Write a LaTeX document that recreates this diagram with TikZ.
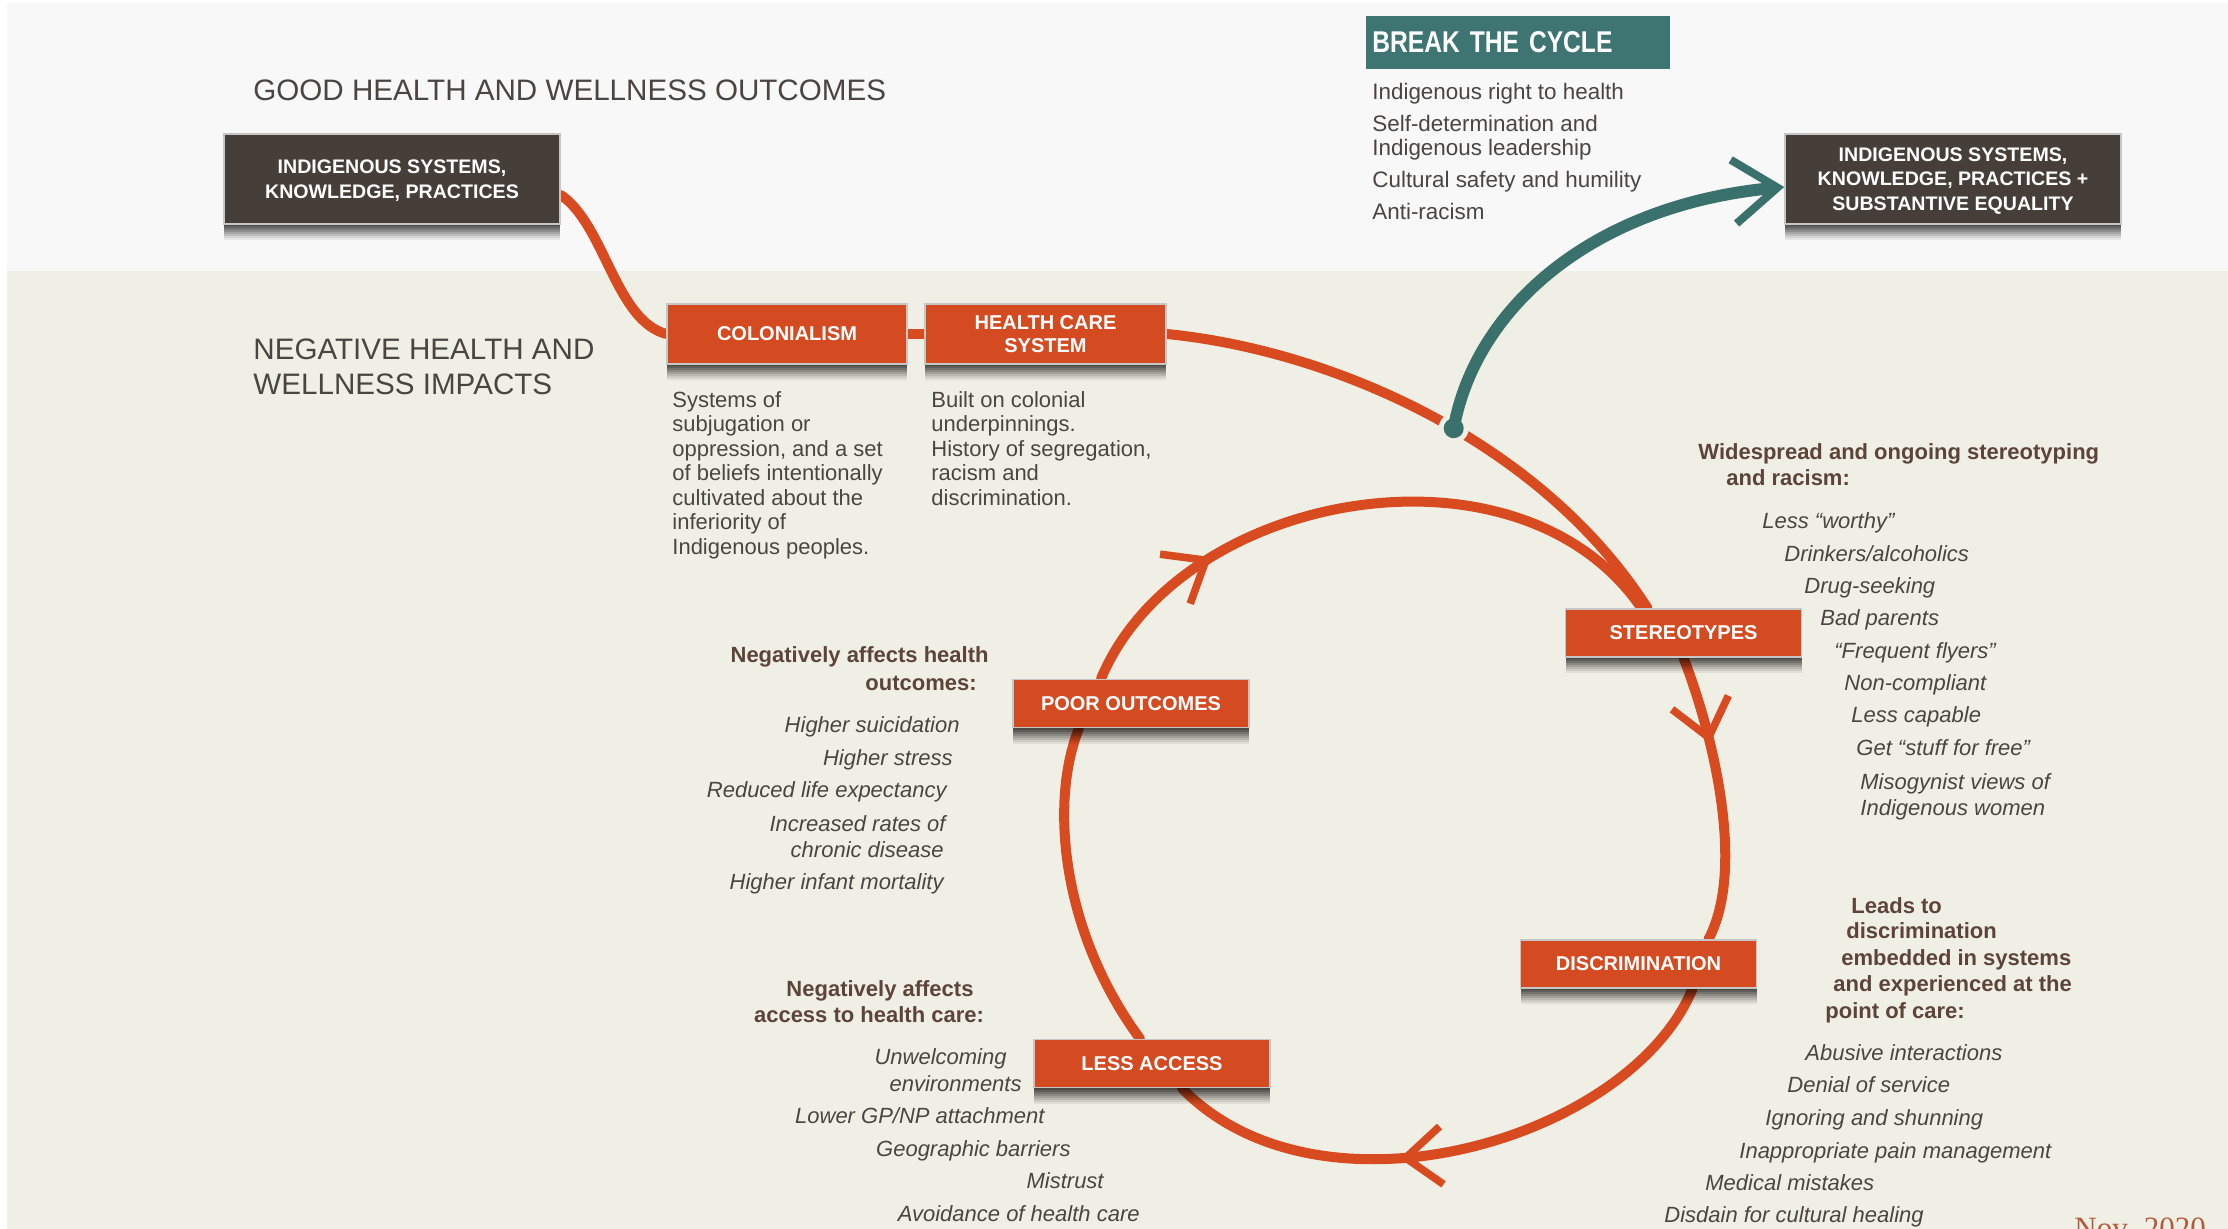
\documentclass[tikz,border=0pt]{standalone}
\usepackage{fontspec}
\setmainfont{Liberation Sans}
\newfontfamily\condfont{Liberation Sans}[FakeStretch=0.82]
\newfontfamily\datefont{Liberation Serif}
\usetikzlibrary{arrows.meta,decorations.markings,shadows}
\definecolor{topband}{HTML}{F8F8F8}
\definecolor{lowband}{HTML}{F0EFE5}
\definecolor{boxred}{HTML}{D44B22}
\definecolor{flowred}{HTML}{D84B20}
\definecolor{boxdark}{HTML}{463F39}
\definecolor{tealbox}{HTML}{3E7572}
\definecolor{tealline}{HTML}{3A716D}
\definecolor{headbrown}{HTML}{5C443B}
\definecolor{textgray}{HTML}{4A4541}
\definecolor{datecol}{HTML}{B35C3A}
\pgfdeclarelayer{lines}
\pgfsetlayers{lines,main}

\begin{document}
\begin{tikzpicture}[x=0.5pt, y=-0.5pt,
    softshadow/.style={
      drop shadow={shadow xshift=0pt, shadow yshift=-8pt, opacity=0.07, fill=black},
      drop shadow={shadow xshift=0pt, shadow yshift=-7pt, opacity=0.08, fill=black},
      drop shadow={shadow xshift=0pt, shadow yshift=-6pt, opacity=0.1, fill=black},
      drop shadow={shadow xshift=0pt, shadow yshift=-5pt, opacity=0.12, fill=black},
      drop shadow={shadow xshift=0pt, shadow yshift=-4pt, opacity=0.14, fill=black},
      drop shadow={shadow xshift=0pt, shadow yshift=-3pt, opacity=0.16, fill=black},
      drop shadow={shadow xshift=0pt, shadow yshift=-2pt, opacity=0.18, fill=black},
      drop shadow={shadow xshift=0pt, shadow yshift=-1pt, opacity=0.2, fill=black}},
    box/.style={rectangle, draw=gray!45, line width=0.8pt, text=white, align=center, inner sep=2pt, softshadow},
    redbox/.style={box, fill=boxred, minimum width=118pt, minimum height=24pt, font=\bfseries\fontsize{10}{11.5}\selectfont},
    darkbox/.style={box, fill=boxdark, minimum width=168pt, minimum height=45pt, font=\bfseries\fontsize{9.8}{12.3}\selectfont},
    bandtitle/.style={inner sep=0pt, text=textgray, font=\fontsize{14.8}{17.5}\selectfont, align=left},
    body/.style={inner sep=0pt, text=textgray, font=\fontsize{11}{12.25}\selectfont, align=left},
    head/.style={inner sep=0pt, text=headbrown, font=\bfseries\fontsize{11}{13}\selectfont},
    item/.style={inner sep=0pt, text=textgray, font=\itshape\fontsize{11}{13}\selectfont},
    flow/.style={draw=flowred, line width=5pt, line cap=round},
    midarrow/.style={postaction={decorate}, decoration={markings, mark=at position #1 with {\arrow{Straight Barb[length=18pt, width=29pt, line width=3.8pt, color=flowred]}}}},
  ]
  \useasboundingbox (0,0) rectangle (2228,1229);

  % Bands
  \begin{pgfonlayer}{lines}
    \fill[white] (0,0) rectangle (2228,1229);
    \fill[topband] (7,3) rectangle (2228,271);
    \fill[lowband] (7,271) rectangle (2228,1229);
  \end{pgfonlayer}

  % Band titles
  \node[bandtitle, anchor=base west] (goodtitle) at (253,101) {GOOD HEALTH AND WELLNESS OUTCOMES};
  \node[bandtitle, anchor=north west] (negtitle) at (253,338) {NEGATIVE HEALTH AND\\WELLNESS IMPACTS};

  % Break the cycle
  \node[fill=tealbox, text=white, anchor=west, minimum height=26.5pt, text width=146pt, inner xsep=3pt, align=left,
    font=\condfont\bfseries\fontsize{15}{17}\selectfont] (breakbox) at (1366,42.5) {BREAK THE CYCLE};
  \node[body, anchor=north west, font=\fontsize{11.2}{12}\selectfont] (breaklist) at (1372,83)
    {Indigenous right to health\\[4pt] Self-determination and\\Indigenous leadership\\[4pt] Cultural safety and humility\\[4pt] Anti-racism};

  % Indigenous systems
  \node[darkbox] (roots) at (392,179) {\strut INDIGENOUS SYSTEMS,\\KNOWLEDGE, PRACTICES};
  \node[darkbox] (goal) at (1953,179) {\strut INDIGENOUS SYSTEMS,\\KNOWLEDGE, PRACTICES +\\SUBSTANTIVE EQUALITY};

  % Colonialism and health care system
  \node[redbox, minimum width=120pt, minimum height=30pt] (colonial) at (787,334) {COLONIALISM};
  \node[redbox, minimum width=120.5pt, minimum height=30pt] (hcs) at (1045.5,334) {HEALTH CARE\\SYSTEM};
  \node[body, anchor=north west] (coltext) at (672,391) {Systems of\\subjugation or\\oppression, and a set\\of beliefs intentionally\\cultivated about the\\inferiority of\\Indigenous peoples.};
  \node[body, anchor=north west] (hcstext) at (931,391) {Built on colonial\\underpinnings.\\History of segregation,\\racism and\\discrimination.};

  % Cycle
  \node[redbox] (stereo) at (1683.5,633) {STEREOTYPES};
  \node[redbox] (poor) at (1131,703.5) {POOR OUTCOMES};
  \node[redbox] (discr) at (1638.5,964) {DISCRIMINATION};
  \node[redbox] (access) at (1152,1063.5) {LESS ACCESS};

  % Stereotypes
  \node[head, anchor=base west] (sthead1) at (1698,460) {Widespread and ongoing stereotyping};
  \node[head, anchor=base west] (sthead2) at (1726,486) {and racism:};
  \node[item, anchor=base west] (st1) at (1762,529) {Less “worthy”};
  \node[item, anchor=base west] (st2) at (1784,562) {Drinkers/alcoholics};
  \node[item, anchor=base west] (st3) at (1804,594) {Drug-seeking};
  \node[item, anchor=base west] (st4) at (1820,626) {Bad parents};
  \node[item, anchor=base west] (st5) at (1834,659) {“Frequent flyers”};
  \node[item, anchor=base west] (st6) at (1844,690) {Non-compliant};
  \node[item, anchor=base west] (st7) at (1851,723) {Less capable};
  \node[item, anchor=base west] (st8) at (1856,755) {Get “stuff for free”};
  \node[item, anchor=base west] (st9) at (1860,789) {Misogynist views of};
  \node[item, anchor=base west] (st10) at (1860,815) {Indigenous women};

  % Discrimination
  \node[head, anchor=base west] (dihead1) at (1851,913) {Leads to};
  \node[head, anchor=base west] (dihead2) at (1846,938) {discrimination};
  \node[head, anchor=base west] (dihead3) at (1841,965) {embedded in systems};
  \node[head, anchor=base west] (dihead4) at (1833,991) {and experienced at the};
  \node[head, anchor=base west] (dihead5) at (1825,1018) {point of care:};
  \node[item, anchor=base west] (di1) at (1805,1060) {Abusive interactions};
  \node[item, anchor=base west] (di2) at (1787,1092) {Denial of service};
  \node[item, anchor=base west] (di3) at (1765,1125) {Ignoring and shunning};
  \node[item, anchor=base west] (di4) at (1739,1158) {Inappropriate pain management};
  \node[item, anchor=base west] (di5) at (1705,1190) {Medical mistakes};
  \node[item, anchor=base west] (di6) at (1664,1222) {Disdain for cultural healing};

  % Poor outcomes
  \node[head, anchor=base east] (pohead1) at (989,663) {Negatively affects health};
  \node[head, anchor=base east] (pohead2) at (977,690) {outcomes:};
  \node[item, anchor=base east] (po1) at (960,733) {Higher suicidation};
  \node[item, anchor=base east] (po2) at (953,765) {Higher stress};
  \node[item, anchor=base east] (po3) at (947,798) {Reduced life expectancy};
  \node[item, anchor=base east] (po4) at (946,831) {Increased rates of};
  \node[item, anchor=base east] (po5) at (944,857) {chronic disease};
  \node[item, anchor=base east] (po6) at (944,889) {Higher infant mortality};

  % Less access
  \node[head, anchor=base] (achead1) at (880,996) {Negatively affects};
  \node[head, anchor=base] (achead2) at (869,1022) {access to health care:};
  \node[item, anchor=base east] (ac1) at (1007,1064) {Unwelcoming};
  \node[item, anchor=base east] (ac2) at (1022,1091) {environments};
  \node[item, anchor=base east] (ac3) at (1045,1123) {Lower GP/NP attachment};
  \node[item, anchor=base east] (ac4) at (1071,1156) {Geographic barriers};
  \node[item, anchor=base east] (ac5) at (1104,1188) {Mistrust};
  \node[item, anchor=base east] (ac6) at (1140,1221) {Avoidance of health care};

  % Date
  \node[inner sep=0pt, anchor=base west, text=datecol, font=\datefont\fontsize{15.5}{18}\selectfont] (date) at (2074,1238) {Nov. 2020};

  % Connections
  \begin{pgfonlayer}{lines}
    \draw[flow] ([yshift=-8pt]roots.east) .. controls (605,225) and (615,320) .. (colonial.west);
    \draw[flow] (colonial.east) -- (hcs.west);
    \draw[flow] (hcs.east) .. controls (1330,350) and (1540,440) .. coordinate[pos=0.55] (cut) ([xshift=-18pt]stereo.north);
    \draw[flow, midarrow=0.31] (stereo.south) .. controls (1715,740) and (1745,870) .. ([xshift=35pt]discr.north);
    \draw[flow, midarrow=0.6] ([xshift=27pt]discr.south) .. controls (1630,1140) and (1320,1230) .. ([xshift=15pt]access.south);
    \draw[flow] ([xshift=-6pt]access.north) .. controls (1060,930) and (1050,800) .. ([xshift=-26pt]poor.south);
    \draw[flow, midarrow=0.26] ([xshift=-15pt]poor.north) .. controls (1180,490) and (1520,430) .. ([xshift=-21pt]stereo.north);
    % Break out
    \fill[lowband] (cut) circle (7.5pt);
    \draw[tealline, line width=6pt, -{Straight Barb[length=22pt, width=32pt, line width=4pt]}] (cut) .. controls (1475,310) and (1590,205) .. ([yshift=-4pt]goal.west);
    \fill[tealline] (cut) circle (5pt);
  \end{pgfonlayer}
\end{tikzpicture}
\end{document}
